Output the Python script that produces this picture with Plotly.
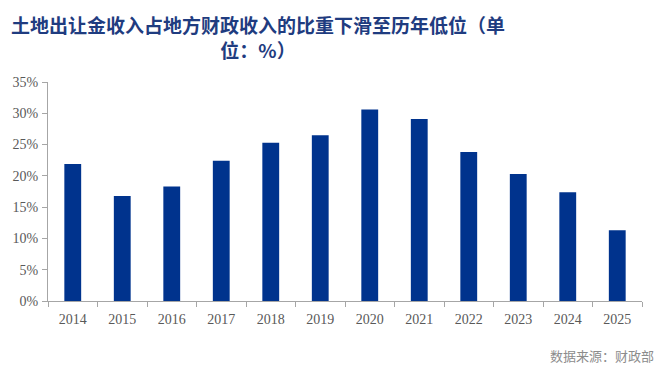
import plotly.graph_objects as go

years = ["2014", "2015", "2016", "2017", "2018", "2019", "2020", "2021", "2022", "2023", "2024", "2025"]
share = [21.9, 16.8, 18.3, 22.4, 25.3, 26.5, 30.6, 29.1, 23.8, 20.3, 17.4, 11.3]
yticks = [0, 5, 10, 15, 20, 25, 30, 35]
ytick_text = [f"{v}%" for v in yticks]

title_text = "土地出让金收入占地方财政收入的比重下滑至历年低位（单<br>位：%）"
source_text = "数据来源：财政部"

fig = go.Figure()
fig.add_trace(go.Bar(x=years, y=share, marker=dict(color="#00338D", line=dict(width=0)), width=0.34))

axis_col = "#A6A6A6"
tick_font = dict(family="Liberation Serif", size=14, color="#595959")

fig.update_layout(
    width=660, height=370,
    margin=dict(l=48, r=18, t=82, b=69),
    paper_bgcolor="white", plot_bgcolor="white",
    showlegend=False,
    xaxis=dict(type="category", showline=True, linecolor=axis_col, linewidth=1,
               ticks="outside", tickson="boundaries", ticklen=5, tickcolor=axis_col,
               tickfont=tick_font, showgrid=False, zeroline=False, ticklabelstandoff=5),
    yaxis=dict(range=[0, 35], tickvals=yticks, ticktext=ytick_text, showline=True,
               linecolor=axis_col, linewidth=1, ticks="outside", ticklen=5, tickcolor=axis_col,
               tickfont=tick_font, showgrid=False, zeroline=False, ticklabelstandoff=1),
    annotations=[
        dict(text="<b>" + title_text + "</b>", x=(258 - 48) / 594, y=1, xref="paper", yref="paper",
             xanchor="center", yanchor="top", yshift=82 - 9, showarrow=False, align="center",
             font=dict(family="Noto Sans CJK SC", size=19, color="#1F3C80")),
        dict(text=source_text, x=1, y=0, xref="paper", yref="paper", xanchor="right",
             yanchor="middle", xshift=14, yshift=-54, showarrow=False,
             font=dict(family="Noto Sans CJK SC", size=13, color="#8C8C8C")),
    ],
)

fig.write_html("out.html")
